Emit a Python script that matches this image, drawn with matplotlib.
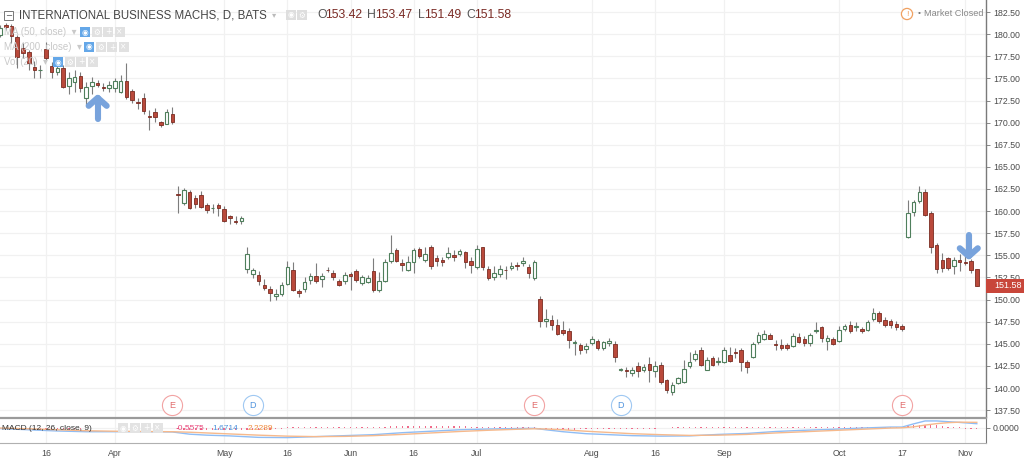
import numpy as np
import pandas as pd
import matplotlib
matplotlib.use("Agg")
import matplotlib.pyplot as plt
from matplotlib.transforms import blended_transform_factory
from matplotlib.patches import Rectangle

plt.rcParams['font.family'] = ['Liberation Sans', 'DejaVu Sans']

# ---------------- data ----------------
holidays = ['2017-04-14', '2017-05-29', '2017-07-04', '2017-09-04']
dates = pd.bdate_range('2017-03-06', '2017-11-03', freq='C', holidays=holidays)

opens = [
    179.9, 181.0, 180.9, 179.7, 178.4, 178.0, 176.3, 175.9, 178.3, 176.4,
    175.7, 176.2, 174.1, 174.6, 175.3, 172.8, 174.1, 174.5, 174.05, 173.9,
    173.9, 173.5, 174.7, 173.6, 172.3, 172.8, 170.7, 171.2, 170.1, 169.9,
    171.0, 161.9, 160.9, 162.2, 161.5, 161.8, 160.7, 160.3, 160.7, 160.2,
    159.5, 158.9, 158.9, 153.5, 152.9, 152.8, 151.7, 151.2, 150.4, 150.6,
    151.8, 153.4, 151.0, 151.2, 152.2, 152.7, 152.3, 153.4, 153.0, 152.1,
    152.1, 152.9, 153.2, 151.9, 152.0, 153.2, 151.1, 152.1, 154.4, 155.6,
    154.1, 153.4, 154.3, 155.7, 154.5, 156.0, 154.7, 154.5, 154.8, 155.0,
    155.1, 155.4, 154.4, 153.7, 155.9, 153.5, 152.5, 152.9, 153.4, 153.6,
    153.9, 154.1, 153.7, 152.4, 150.1, 147.6, 147.7, 147.1, 146.6, 146.4,
    145.1, 144.9, 144.4, 145.1, 145.3, 144.5, 145.1, 145.0, 142.0, 142.0,
    141.7, 142.5, 142.0, 142.7, 141.9, 142.6, 140.9, 139.6, 140.6, 140.7,
    142.5, 143.3, 144.3, 142.1, 143.4, 143.0, 143.0, 143.7, 144.05, 144.3,
    142.9, 143.5, 145.2, 145.5, 146.0, 145.0, 144.9, 144.9, 144.8, 145.8,
    145.6, 145.1, 146.5, 146.9, 145.3, 145.5, 145.3, 146.7, 147.1, 146.9,
    146.7, 146.6, 147.8, 148.5, 147.7, 147.6, 147.3, 147.0, 157.1, 159.9,
    161.1, 162.2, 159.8, 156.2, 154.5, 154.7, 153.8, 154.5, 154.3, 154.4,
    153.42]
highs = [
    181.0, 181.3, 181.2, 179.9, 179.0, 178.2, 177.0, 176.5, 179.1, 176.9,
    176.5, 176.5, 175.7, 176.0, 175.7, 174.6, 175.2, 174.8, 174.5, 174.7,
    175.0, 175.4, 176.7, 173.8, 172.8, 173.3, 171.4, 171.6, 170.2, 171.5,
    171.8, 162.8, 162.6, 162.4, 161.8, 162.3, 160.9, 160.8, 160.9, 160.6,
    159.6, 159.5, 159.4, 156.0, 153.6, 153.2, 152.3, 151.5, 151.2, 152.0,
    154.4, 154.2, 151.2, 152.6, 153.0, 154.1, 153.0, 153.7, 153.3, 152.3,
    153.1, 153.1, 153.5, 152.8, 152.8, 154.7, 153.1, 154.6, 157.3, 155.8,
    154.6, 154.9, 155.8, 156.0, 156.0, 156.2, 155.0, 154.8, 155.9, 155.6,
    155.7, 155.5, 154.8, 156.2, 156.0, 153.8, 153.8, 153.9, 153.8, 154.2,
    154.2, 154.8, 154.0, 154.5, 150.4, 148.9, 148.3, 147.8, 147.6, 146.8,
    145.4, 145.1, 145.1, 145.9, 145.6, 145.3, 145.7, 145.3, 142.3, 142.4,
    142.4, 142.9, 142.7, 143.5, 143.1, 143.0, 141.0, 140.7, 141.3, 143.2,
    144.1, 144.3, 144.7, 143.5, 143.6, 143.5, 144.7, 144.6, 144.5, 144.5,
    143.2, 145.2, 146.3, 146.6, 146.2, 145.4, 145.5, 145.1, 146.2, 146.2,
    145.9, 146.2, 147.5, 147.0, 146.0, 145.8, 147.0, 147.3, 147.6, 147.5,
    146.9, 147.7, 149.0, 148.7, 148.0, 147.8, 147.6, 147.2, 161.3, 161.3,
    162.8, 162.5, 160.0, 156.4, 155.3, 154.8, 154.8, 155.1, 154.9, 154.6,
    153.47]
lows = [
    179.7, 180.5, 179.0, 176.2, 177.3, 176.0, 175.0, 175.0, 177.0, 175.0,
    175.4, 173.9, 173.2, 173.5, 173.5, 172.0, 173.2, 174.0, 173.6, 173.5,
    173.5, 173.3, 172.7, 172.2, 171.5, 171.0, 169.2, 170.1, 169.5, 169.8,
    169.9, 159.8, 160.7, 160.2, 160.3, 160.3, 159.8, 159.8, 159.5, 158.8,
    158.6, 158.6, 158.6, 153.0, 152.4, 151.6, 151.1, 149.9, 150.0, 150.4,
    151.6, 151.0, 150.3, 150.9, 151.8, 151.9, 151.4, 153.1, 152.2, 151.5,
    151.8, 151.1, 152.0, 151.7, 151.9, 150.9, 150.9, 152.0, 154.1, 154.2,
    153.2, 153.2, 153.0, 154.7, 154.2, 153.5, 153.8, 153.8, 154.6, 154.4,
    154.9, 153.6, 153.0, 153.5, 153.4, 152.2, 152.2, 152.6, 152.3, 153.3,
    153.4, 153.8, 152.4, 152.2, 146.9, 146.9, 146.6, 146.0, 146.0, 144.5,
    143.7, 143.9, 144.0, 144.9, 144.3, 144.3, 144.8, 142.9, 141.9, 141.3,
    141.4, 141.3, 141.8, 140.7, 141.3, 140.5, 139.4, 139.2, 140.5, 140.6,
    142.3, 143.1, 142.5, 142.0, 142.5, 142.6, 142.8, 142.9, 143.4, 141.9,
    141.7, 143.4, 145.0, 145.4, 145.5, 144.3, 144.3, 144.3, 144.6, 145.1,
    144.8, 144.8, 146.2, 145.2, 144.3, 144.9, 145.2, 146.4, 146.2, 146.5,
    146.2, 146.4, 147.6, 147.4, 146.9, 146.8, 146.6, 146.4, 157.0, 159.5,
    160.9, 159.5, 155.3, 153.0, 153.1, 153.3, 152.9, 153.2, 153.9, 153.0,
    151.49]
closes = [
    180.7, 180.8, 179.8, 177.4, 177.9, 176.7, 175.9, 176.0, 177.3, 175.7,
    176.2, 174.0, 175.0, 175.2, 173.9, 174.0, 174.6, 174.2, 173.95, 174.3,
    174.7, 174.7, 172.9, 172.55, 172.2, 171.3, 170.6, 170.6, 169.7, 171.2,
    170.1, 161.8, 162.4, 160.4, 160.8, 160.5, 160.1, 160.4, 160.3, 158.9,
    159.2, 158.8, 159.2, 155.2, 153.3, 152.1, 151.3, 150.7, 150.6, 151.6,
    153.7, 151.1, 150.8, 152.0, 152.7, 152.1, 152.7, 153.3, 152.5, 151.7,
    152.8, 152.7, 152.2, 152.5, 152.4, 151.1, 152.1, 154.2, 155.3, 154.4,
    153.9, 154.3, 155.6, 154.9, 155.2, 153.8, 154.4, 154.2, 155.3, 154.8,
    155.5, 154.2, 153.9, 155.7, 153.7, 152.4, 153.0, 153.5, 153.3, 153.8,
    153.8, 154.4, 153.0, 154.2, 147.6, 147.8, 147.1, 146.1, 146.2, 145.4,
    145.2, 144.3, 144.8, 145.5, 144.5, 145.2, 145.3, 143.5, 142.2, 141.9,
    142.1, 141.9, 142.4, 142.1, 142.5, 140.7, 139.8, 140.4, 141.1, 142.2,
    143.0, 143.8, 142.6, 143.2, 142.6, 143.1, 144.3, 143.1, 143.95, 142.9,
    142.4, 145.0, 146.0, 146.1, 145.6, 144.9, 144.5, 144.5, 145.9, 145.2,
    145.1, 146.0, 146.6, 145.7, 145.7, 145.0, 146.6, 147.0, 146.4, 147.0,
    146.5, 147.5, 148.5, 147.6, 147.1, 147.1, 146.9, 146.7, 159.8, 161.0,
    162.2, 159.6, 156.0, 153.5, 153.6, 153.6, 154.5, 154.2, 154.1, 153.4,
    151.58]

macd_idx = [0, 5, 10, 15, 20, 25, 30, 33, 36, 40, 45, 50, 55, 60, 65, 70, 75,
            80, 85, 90, 93, 95, 98, 102, 106, 110, 115, 120, 125, 130, 135,
            140, 145, 150, 155, 157, 159, 161, 163, 165, 167, 170]
macd_line = [-0.3, -0.8, -1.3, -1.6, -1.6, -1.6, -1.7, -2.6, -3.0, -3.3, -3.9,
             -4.0, -3.6, -3.2, -2.8, -2.0, -1.4, -0.8, -0.5, -0.3, -0.2, -0.8,
             -1.6, -2.4, -2.8, -3.2, -3.4, -3.3, -2.7, -2.3, -1.5, -1.0, -0.6,
             -0.1, 0.3, 0.3, 1.6, 2.8, 2.8, 2.5, 2.2, 1.6714]
signal_line = [-0.1, -0.4, -0.8, -1.2, -1.4, -1.5, -1.6, -1.8, -2.1, -2.5, -3.0,
               -3.4, -3.6, -3.5, -3.2, -2.7, -2.1, -1.5, -1.0, -0.6, -0.4, -0.5,
               -0.8, -1.4, -1.9, -2.4, -2.8, -3.1, -3.0, -2.7, -2.1, -1.6, -1.1,
               -0.6, -0.1, 0.0, 0.4, 1.1, 1.7, 2.1, 2.3, 2.2289]
hist = [
    -0.2, -0.2, -0.3, -0.3, -0.3, -0.3, -0.3, -0.3, -0.3, -0.3,
    -0.3, -0.3, -0.3, -0.3, -0.3, -0.2, -0.2, -0.2, -0.2, -0.2,
    -0.2, -0.2, -0.2, -0.2, -0.2, -0.2, -0.2, -0.2, -0.2, -0.2,
    -0.2, -0.6, -0.7, -0.8, -0.8, -0.8, -0.8, -0.8, -0.8, -0.8,
    -0.8, -0.8, -0.8, -0.9, -0.9, -0.9, -0.8, -0.7, -0.6, -0.4,
    0.2, 0.2, 0.2, 0.2, 0.3, 0.3, 0.3, 0.3, 0.3, 0.3,
    0.3, 0.3, 0.4, 0.4, 0.4, 0.4, 0.4, 0.5, 0.6, 0.6,
    0.6, 0.6, 0.6, 0.6, 0.6, 0.6, 0.6, 0.6, 0.6, 0.6,
    0.6, 0.6, 0.5, 0.5, 0.5, 0.4, 0.4, 0.4, 0.3, 0.3,
    0.3, 0.3, 0.3, 0.2, -0.3, -0.4, -0.5, -0.6, -0.7, -0.7,
    -0.7, -0.6, -0.6, -0.5, -0.5, -0.5, -0.5, -0.5, -0.5, -0.5,
    -0.4, -0.4, -0.4, -0.3, -0.3, -0.2, -0.2, 0.2, 0.2, 0.2,
    0.2, 0.3, 0.3, 0.3, 0.3, 0.3, 0.3, 0.3, 0.4, 0.4,
    0.4, 0.4, 0.4, 0.4, 0.5, 0.5, 0.5, 0.5, 0.5, 0.5,
    0.5, 0.5, 0.5, 0.5, 0.4, 0.4, 0.4, 0.4, 0.4, 0.4,
    0.4, 0.4, 0.4, 0.3, 0.3, 0.3, 0.3, 0.3, 0.8, 1.0,
    1.2, 1.3, 1.2, 1.0, 0.7, 0.5, 0.3, 0.2, -0.3, -0.45,
    -0.5575]

tick_dates = ['2017-03-16', '2017-04-03', '2017-05-01', '2017-05-16', '2017-06-01',
              '2017-06-16', '2017-07-03', '2017-08-01', '2017-08-16', '2017-09-01',
              '2017-10-02', '2017-10-17', '2017-11-01']
tick_labels = ['16', 'Apr', 'May', '16', 'Jun', '16', 'Jul', 'Aug', '16', 'Sep',
               'Oct', '17', 'Nov']
price_ticks = [137.5, 140.0, 142.5, 145.0, 147.5, 150.0, 152.5, 155.0, 157.5,
               160.0, 162.5, 165.0, 167.5, 170.0, 172.5, 175.0, 177.5, 180.0, 182.5]
events = [('E', '2017-04-18'), ('D', '2017-05-08'), ('E', '2017-07-18'),
          ('D', '2017-08-08'), ('E', '2017-10-17')]
up_arrow = ('2017-03-29', 172.8, 170.4)     # date, tip price, tail price
down_arrow = ('2017-11-01', 154.9, 157.3)

# ---------------- style ----------------
UP_EDGE = '#4f7f5c'
DN_FACE = '#b9493b'
DN_EDGE = '#7a2c22'
WICK = '#7d7d7d'
GRID = '#f1f1f1'
TXT = '#4b4b4b'
ARROW = '#78a3dc'

W, H = 1024, 458
RIGHT = 986
PX_PER_BAR = 5.746


def rect(x0, y0, x1, y1):
    return [x0 / W, 1 - y1 / H, (x1 - x0) / W, (y1 - y0) / H]


def fx(x):
    return x / W


def fy(y):
    return 1 - y / H


fig = plt.figure(figsize=(10.24, 4.58), dpi=100)
fig.patch.set_facecolor('white')
ax = fig.add_axes(rect(0, 0, RIGHT, 417))
axm = fig.add_axes(rect(0, 418, RIGHT, 443), sharex=ax)

x = np.arange(len(dates))
o = np.array(opens); h = np.array(highs); l = np.array(lows); c = np.array(closes)
pos = {d.strftime('%Y-%m-%d'): i for i, d in enumerate(dates)}
tick_idx = [pos[d] for d in tick_dates]

# grid
for p in price_ticks:
    ax.axhline(p, color=GRID, lw=0.9, zorder=0)
for t in tick_idx:
    ax.axvline(t, color=GRID, lw=0.9, zorder=0)
    axm.axvline(t, color=GRID, lw=0.9, zorder=0)

# candles
up = c >= o
ax.vlines(x[up], l[up], h[up], color=WICK, lw=0.8, zorder=2)
ax.vlines(x[~up], l[~up], h[~up], color=WICK, lw=0.8, zorder=2)
body_lo = np.minimum(o, c)
body_h = np.maximum(np.abs(c - o), 0.04)
ax.bar(x[up], body_h[up], bottom=body_lo[up], width=0.62, facecolor='white',
       edgecolor=UP_EDGE, linewidth=0.8, zorder=3)
ax.bar(x[~up], body_h[~up], bottom=body_lo[~up], width=0.62, facecolor=DN_FACE,
       edgecolor=DN_EDGE, linewidth=0.6, zorder=3)

ax.set_xlim(0, RIGHT / PX_PER_BAR)
ax.set_ylim(182.5 - 405 / 8.85, 182.5 + 12 / 8.85)
ax.yaxis.tick_right()
ax.set_yticks(price_ticks)
ax.set_yticklabels(['%.2f' % p for p in price_ticks])
ax.tick_params(axis='y', labelsize=6.3, labelcolor=TXT, color='#888888', length=3,
               width=0.7, pad=2)
ax.tick_params(axis='x', bottom=False, labelbottom=False)
for s in ['top', 'left', 'bottom']:
    ax.spines[s].set_visible(False)
ax.spines['right'].set_color('#7a7a7a')
ax.spines['right'].set_linewidth(1.0)

# last price label
bt = blended_transform_factory(ax.transAxes, ax.transData)
ax.add_patch(Rectangle((1.0, c[-1] - 0.8), 0.039, 1.6, transform=bt,
                       facecolor='#c8463a', edgecolor='none', clip_on=False, zorder=5))
ax.text(1.008, c[-1], '%.2f' % c[-1], transform=bt, color='white', fontsize=6.5,
        va='center', ha='left', zorder=6, clip_on=False)

# events (E / D)
bt2 = blended_transform_factory(ax.transData, ax.transAxes)
for kind, d in events:
    ec = '#f2a3a3' if kind == 'E' else '#9fc8f2'
    tc = '#e06b6b' if kind == 'E' else '#4f93dd'
    ax.scatter([pos[d]], [12 / 417], s=210, facecolor='white', edgecolor=ec,
               linewidth=0.8, transform=bt2, zorder=6, clip_on=False)
    ax.text(pos[d], 12 / 417, kind, transform=bt2, color=tc, fontsize=6.5,
            ha='center', va='center', zorder=7)


def draw_arrow(spec, direction, shift):
    d, tip, tail = spec
    xi = pos[d] + shift
    dx = 9 / PX_PER_BAR
    dy = 8 / 8.85 * (-1 if direction == 'up' else 1)
    kw = dict(color=ARROW, lw=4.4, solid_capstyle='round', solid_joinstyle='round',
              zorder=8)
    ax.plot([xi, xi], [tail, tip], **kw)
    ax.plot([xi - dx, xi, xi + dx], [tip + dy, tip, tip + dy], **kw)


draw_arrow(up_arrow, 'up', 0.0)
draw_arrow(down_arrow, 'down', 0.6)

# ---------------- MACD pane ----------------
axm.axhline(0, color=GRID, lw=0.9, zorder=0)
axm.bar(x, hist, width=0.22, color='#f06b8a', zorder=2)
axm.plot(macd_idx, macd_line, color='#8fbdf5', lw=1.0, zorder=3)
axm.plot(macd_idx, signal_line, color='#f6b98c', lw=1.0, zorder=3)
axm.set_ylim(-6.2, 4.0)
axm.yaxis.tick_right()
axm.set_yticks([0])
axm.set_yticklabels(['0.0000'])
axm.tick_params(axis='y', labelsize=6.3, labelcolor=TXT, color='#888888', length=3,
                width=0.7, pad=2)
axm.set_xticks(tick_idx)
axm.set_xticklabels(tick_labels)
axm.tick_params(axis='x', labelsize=6.3, labelcolor=TXT, length=0, pad=4)
axm.spines['left'].set_visible(False)
axm.spines['bottom'].set_color('#b0b0b0')
axm.spines['bottom'].set_linewidth(0.8)
axm.spines['top'].set_color('#9a9a9a')
axm.spines['top'].set_linewidth(1.6)
axm.spines['right'].set_color('#7a7a7a')

# MACD legend
fig.text(fx(2), fy(428), 'MACD (12, 26, close, 9)', fontsize=6, color='#333333',
         va='center')
for k, sym in enumerate(['◉', '⚙', '+', '×']):
    x0 = 118 + k * 11.5
    fig.patches.append(Rectangle((fx(x0), fy(433)), 10 / W, 10 / H,
                                 transform=fig.transFigure, facecolor='#e3e3e3',
                                 edgecolor='none'))
    fig.text(fx(x0 + 5), fy(428), sym, fontsize=5.5, color='white', ha='center',
             va='center', family='DejaVu Sans')
fig.text(fx(176), fy(428), '-0.5575', fontsize=6, color='#e8457a', va='center')
fig.text(fx(212), fy(428), '1.6714', fontsize=6, color='#4f93dd', va='center')
fig.text(fx(248), fy(428), '2.2289', fontsize=6, color='#f08a3c', va='center')

# ---------------- header ----------------
fig.patches.append(Rectangle((fx(4), fy(20)), 9 / W, 9 / H, transform=fig.transFigure,
                             facecolor='white', edgecolor='#777777', lw=0.7))
fig.text(fx(8.5), fy(15.5), '−', fontsize=6, color='#555555', ha='center',
         va='center', family='DejaVu Sans')
fig.text(fx(19), fy(15), 'INTERNATIONAL BUSINESS MACHS, D, BATS', fontsize=8.3,
         color='#444444', va='center')
fig.text(fx(272), fy(15), '▾', fontsize=6, color='#bbbbbb', va='center',
         family='DejaVu Sans')
for k, sym in enumerate(['◉', '⚙']):
    x0 = 286 + k * 11
    fig.patches.append(Rectangle((fx(x0), fy(20)), 10 / W, 10 / H,
                                 transform=fig.transFigure, facecolor='#dedede',
                                 edgecolor='none'))
    fig.text(fx(x0 + 5), fy(15), sym, fontsize=5.5, color='white', ha='center',
             va='center', family='DejaVu Sans')
ohlc = [('O', opens[-1]), ('H', highs[-1]), ('L', lows[-1]), ('C', closes[-1])]
xs = [317, 367, 418, 466]
for (lab, val), x0 in zip(ohlc, xs):
    fig.text(fx(x0), fy(15), lab, fontsize=8.8, color='#555555', va='center')
    fig.text(fx(x0 + (6.5 if lab == 'L' else 8)), fy(15), '%.2f' % val, fontsize=8.8,
             color='#7a2a24', va='center')

# indicator legends (faded)
legend_rows = [('MA (50, close)', 32, 80), ('MA (200, close)', 47, 84), ('Vol (20)', 62, 53)]
for label, yy, bx in legend_rows:
    fig.text(fx(4), fy(yy), label + '  ▾', fontsize=7, color='#c9c9c9', va='center',
             zorder=10, family=['Liberation Sans', 'DejaVu Sans'])
    for k, sym in enumerate(['◉', '⚙', '+', '×']):
        x0 = bx + k * 11.5
        fc = '#64a7e8' if k == 0 else '#e1e1e1'
        fig.patches.append(Rectangle((fx(x0), fy(yy + 5)), 10 / W, 10 / H,
                                     transform=fig.transFigure, facecolor=fc,
                                     edgecolor='none', zorder=10))
        fig.text(fx(x0 + 5), fy(yy), sym, fontsize=5.5, color='white', ha='center',
                 va='center', family='DejaVu Sans', zorder=11)

# market closed
fig.text(fx(907), fy(14), '!', fontsize=6, color='#f0a060', ha='center', va='center',
         bbox=dict(boxstyle='circle,pad=0.25', facecolor='white', edgecolor='#f0a060',
                   lw=0.9))
fig.text(fx(919), fy(14), '•', fontsize=6, color='#777777', ha='center', va='center')
fig.text(fx(924), fy(14), 'Market Closed', fontsize=6.6, color='#888888', va='center')

fig.savefig('out.png', dpi=100, facecolor='white')
